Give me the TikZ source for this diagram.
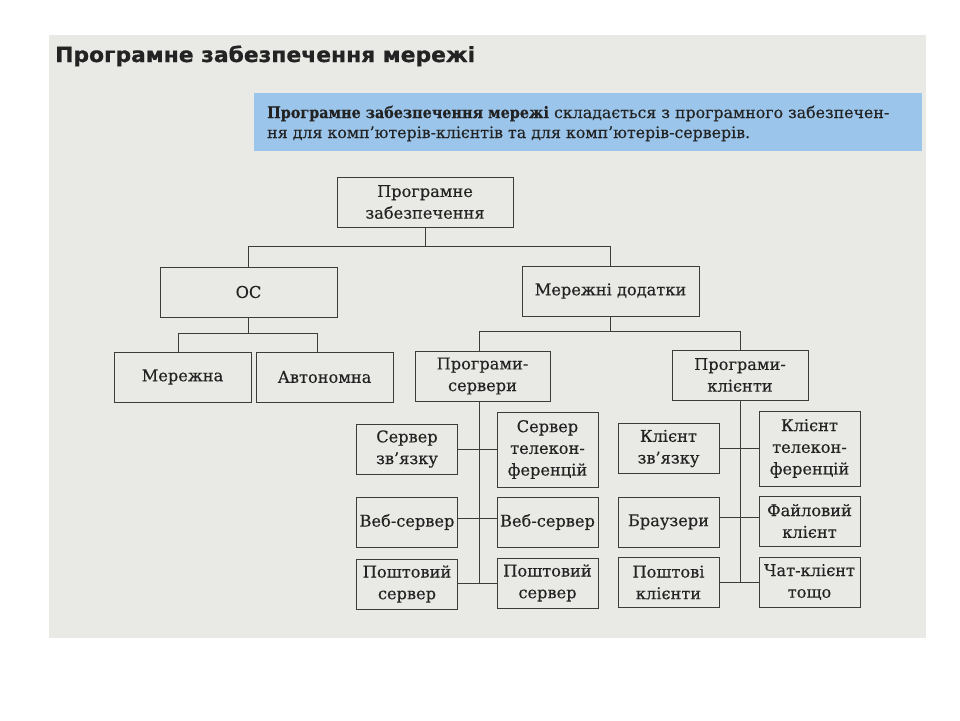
\documentclass[tikz,border=0pt]{standalone}
\usepackage{fontspec}
\setmainfont{DejaVu Serif}
\newfontfamily\boxfont{DejaVu Serif}[FakeBold=0.35]
\newfontfamily\titlefont{DejaVu Sans}[BoldFeatures={FakeBold=0.8}]
\definecolor{pagegray}{RGB}{233,233,230}
\definecolor{infoblue}{RGB}{155,197,234}
\definecolor{ink}{RGB}{60,60,60}
\definecolor{txt}{RGB}{35,35,35}
\begin{document}
\begin{tikzpicture}[x=1pt,y=-1pt,
  box/.style={draw=ink, line width=1pt, align=center, inner sep=0pt, text=txt,
    font=\boxfont\fontsize{16.2}{21.7}\selectfont},
  small/.style={box, minimum width=101pt, minimum height=50pt},
  tall/.style={box, minimum width=101pt, minimum height=75pt},
  infotext/.style={anchor=base west, inner sep=0pt, text=txt, font=\boxfont\fontsize{15.8}{20}\selectfont},
  link/.style={draw=ink, line width=1pt}]
\useasboundingbox (0,0) rectangle (960,720);
\fill[white] (0,0) rectangle (960,720);
\fill[pagegray] (49,35) rectangle (926,638);
\fill[infoblue] (254,93) rectangle (922,151);

% title
\node[anchor=base west, inner sep=0pt, text=txt] (title) at (55,62)
  {\resizebox{420pt}{16.5pt}{\titlefont\bfseries\fontsize{21}{21}\selectfont Програмне забезпечення мережі}};

% info text
\node[infotext] (info1) at (267,118)
  {\scalebox{0.91}[1]{\bfseries Програмне забезпечення мережі} складається з програмного забезпечен-};
\node[infotext] (info2) at (267,138)
  {ня для комп’ютерів-клієнтів та для комп’ютерів-серверів.};

% tree level 0-2
\node[box, minimum width=176pt, minimum height=50pt] (root) at (425,202) {Програмне\\забезпечення};
\node[box, minimum width=177pt, minimum height=50pt] (os) at (248.5,292) {ОС};
\node[box, minimum width=177pt, minimum height=50pt] (net) at (610.5,291) {Мережні додатки};
\node[box, minimum width=137pt, minimum height=50pt] (mer) at (182.5,377) {Мережна};
\node[box, minimum width=137pt, minimum height=50pt] (aut) at (324.5,377) {Автономна};
\node[box, minimum width=135pt, minimum height=50pt] (srv) at (482.5,376) {Програми-\\сервери};
\node[box, minimum width=136pt, minimum height=50pt] (cli) at (740,375) {Програми-\\клієнти};

% servers
\node[small] (sz) at (407,449) {Сервер\\зв’язку};
\node[tall] (stk) at (547.5,449.5) {Сервер\\телекон-\\ференцій};
\node[small] (wl) at (407,522) {Веб-сервер};
\node[small] (wr) at (547.5,522) {Веб-сервер};
\node[small] (pl) at (407,584) {Поштовий\\сервер};
\node[small] (pr) at (547.5,583) {Поштовий\\сервер};

% clients
\node[small] (kz) at (668.5,448.5) {Клієнт\\зв’язку};
\node[tall] (ktk) at (809.5,448.5) {Клієнт\\телекон-\\ференцій};
\node[small] (br) at (668.5,522) {Браузери};
\node[small] (fk) at (809.5,521) {Файловий\\клієнт};
\node[small] (pk) at (668.5,582.5) {Поштові\\клієнти};
\node[small] (chat) at (809.5,582) {Чат-клієнт\\тощо};

% connectors
\draw[link] (root.south) -- ++(0,19) coordinate (b0);
\draw[link] (os.north) |- (b0) -| (net.north);
\draw[link] (os.south) -- ++(0,16) coordinate (b1);
\draw[link] ([xshift=-4.5pt]mer.north) |- (b1) -| ([xshift=-7.5pt]aut.north);
\draw[link] (net.south) -- ++(0,15) coordinate (b2);
\draw[link] ([xshift=-3.5pt]srv.north) |- (b2) -| (cli.north);

\draw[link] ([xshift=-3.5pt]srv.south) -- ([xshift=-3.5pt]srv.south |- pr.west);
\draw[link] (sz.east) -- (sz.east -| stk.west);
\draw[link] ([yshift=4pt]wl.east) -- ([yshift=4pt]wr.west);
\draw[link] (pl.east |- pr.west) -- (pr.west);

\draw[link] (cli.south) -- (cli.south |- chat.west);
\draw[link] (kz.east) -- (kz.east -| ktk.west);
\draw[link] ([yshift=4.5pt]br.east) -- ([yshift=4.5pt]br.east -| fk.west);
\draw[link] (pk.east) -- (pk.east -| chat.west);
\end{tikzpicture}
\end{document}
